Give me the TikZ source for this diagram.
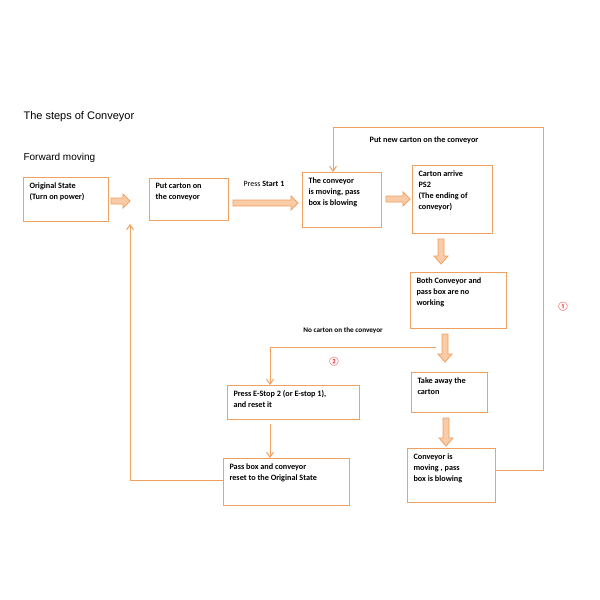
\documentclass[tikz,border=0pt]{standalone}
\usepackage{fontspec}
\setmainfont{Carlito}
\newfontfamily\ttl{Liberation Sans}
\usetikzlibrary{shapes.arrows,arrows.meta}
\definecolor{org}{HTML}{F0A060}
\definecolor{orgf}{HTML}{F9CBA6}
\begin{document}
\begin{tikzpicture}[x=1pt,y=-1pt,
 box/.style={draw=org,line width=0.9pt,anchor=north west,inner sep=0pt},
 bt/.style={font=\bfseries\fontsize{8.2}{11}\selectfont,align=left,anchor=north west},
 ln/.style={draw=org,line width=1pt},
 ar/.style={ln,-{Straight Barb[length=5pt,width=7pt]}},
 blk/.style={draw=org,fill=orgf,line width=0.8pt}]
\useasboundingbox (0,0) rectangle (600,600);
\node[font=\ttl\fontsize{11}{13}\selectfont,anchor=west] (t1) at (20,117) {The steps of Conveyor};
\node[font=\ttl\fontsize{10}{12}\selectfont,anchor=west] (t2) at (20,158) {Forward moving};
% boxes
\newcommand{\bx}[6]{\node[box,minimum width=#4-#2,minimum height=#5-#3] (#1) at (#2,#3) {};
 \node[bt] (#1t) at (#2+3,#3+2) {#6};}
\bx{a}{23}{177}{108}{221}{Original State\\(Turn on power)}
\bx{b}{149}{178}{228}{220}{Put carton on\\the conveyor}
\bx{c}{302}{172}{381}{227}{The conveyor\\is moving, pass\\box is blowing}
\bx{d}{412}{165}{492}{233}{Carton arrive\\PS2\\(The ending of\\conveyor)}
\bx{e}{410}{272}{506}{328}{Both Conveyor and\\pass box are no\\working}
\bx{f}{411}{372}{487}{412}{Take away the\\carton}
\bx{g}{407}{448}{495}{502}{Conveyor is\\moving , pass\\box is blowing}
\bx{h}{227}{385}{359}{419}{Press E-Stop 2 (or E-stop 1),\\and reset it}
\bx{i}{223}{458}{349}{505}{Pass box and conveyor\\reset to the Original State}
% block arrows
\newcommand{\harr}[3]{\draw[blk] (#1,#3-3) -- (#2-7,#3-3) -- (#2-7,#3-7) -- (#2,#3) -- (#2-7,#3+7) -- (#2-7,#3+3) -- (#1,#3+3) -- cycle;}
\newcommand{\varr}[3]{\draw[blk] (#1-3,#2) -- (#1-3,#3-8) -- (#1-7,#3-8) -- (#1,#3) -- (#1+7,#3-8) -- (#1+3,#3-8) -- (#1+3,#2) -- cycle;}
\harr{111}{130}{201}
\harr{233}{298}{203}
\harr{386}{410}{199}
\varr{441}{239}{264}
\varr{445}{334}{362}
\varr{446}{418}{446}
% labels
\node[font=\fontsize{8}{10}\selectfont,anchor=west] (p) at (240,184) {Press \textbf{Start 1}};
\node[bt,anchor=center] (l1) at (424,140) {Put new carton on the conveyor};
\node[bt,anchor=center,font=\bfseries\fontsize{7.2}{9}\selectfont] (l2) at (343,331) {No carton on the conveyor};
\node[text=red,font=\fontsize{9}{10}\selectfont] (n1) at (563,307) {①};
\node[text=red,font=\fontsize{9}{10}\selectfont] (n2) at (334,362) {②};
% thin connectors
\coordinate (q1) at (543,470); \coordinate (q2) at (543,127); \coordinate (q3) at (333,127);
\draw[ln] (g.east|-q1) -- (q1) -- (q2) -- (q3);
\draw[ar] (q3) -- (q3|-c.north);
\coordinate (r1) at (130,480); \coordinate (r2) at (130,224);
\draw[ln] (i.west|-r1) -- (r1);
\draw[ar] (r1) -- (r2);
\coordinate (s1) at (436,347); \coordinate (s2) at (270,347);
\draw[ln] (s1) -- (s2);
\draw[ar] (s2) -- (s2|-h.north);
\coordinate (u1) at (270,424);
\draw[ar] (u1) -- (u1|-i.north);
\end{tikzpicture}
\end{document}
